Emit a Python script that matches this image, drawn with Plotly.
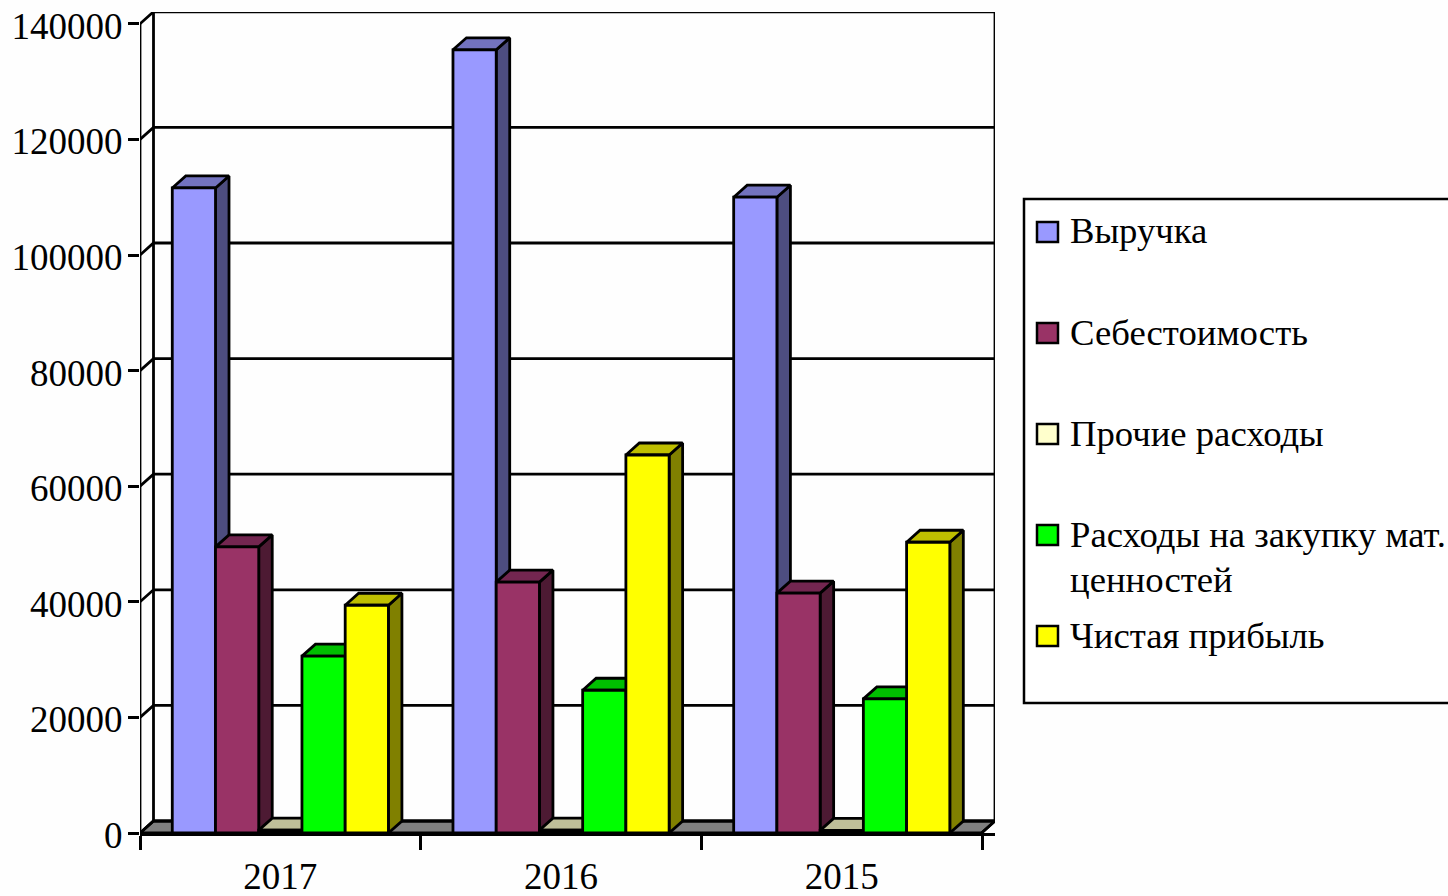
import plotly.graph_objects as go

# ---- data ----
years = ["2017", "2016", "2015"]
series_names = ["Выручка", "Себестоимость", "Прочие расходы", "Расходы на закупку мат. ценностей", "Чистая прибыль"]
revenue = [111600, 135500, 110000]
cost = [49500, 43400, 41500]
other = [500, 500, 450]
materials = [30600, 24700, 23200]
profit = [39400, 65400, 50300]
y_ticks = [0, 20000, 40000, 60000, 80000, 100000, 120000, 140000]

values = [revenue, cost, other, materials, profit]
front = ["#9999FF", "#993366", "#FFFFCC", "#00FF00", "#FFFF00"]
side = ["#4D4D80", "#4D1A33", "#808066", "#008000", "#808000"]
top = ["#7373BF", "#732650", "#BFBF99", "#00BF00", "#BFBF00"]

# ---- geometry of the pseudo-3D frame ----
W, H = 1448, 896
L, R, T, B = 140, 995, 12, 833
PX_X = 280.7            # px per category
PX_Y = 115.6 / 20000    # px per value
X0, X1 = -0.5, -0.5 + (R - L) / PX_X
Y1 = (B - T) / PX_Y
DX, DY = 13.5 / PX_X, 12 / PX_Y
GAP = 0.23
BW = (1 - GAP) / len(values)
LW = 2.8
INK = "#000000"
FONT = "Liberation Serif"
FS = 37

fig = go.Figure()


def poly(xs, ys, fill):
    fig.add_trace(go.Scatter(x=xs, y=ys, mode="lines", fill="toself", fillcolor=fill,
                             line=dict(color=INK, width=LW), hoverinfo="skip", showlegend=False,
                             xaxis="x", yaxis="y"))


# floor
poly([X0, X0 + DX, X1, X1 - DX, X0], [0, DY, DY, 0, 0], "#808080")

# back wall and left wall lines, gridlines
gx, gy = [], []
for t in y_ticks:
    gx += [X0, X0 + DX, X1, None]
    gy += [t, t + DY, t + DY, None]
gx += [X0 + DX, X0 + DX, None, X1, X1, None, X1, X1 - DX, None, X0, X0]
gy += [DY, y_ticks[-1] + DY, None, DY, y_ticks[-1] + DY, None, DY, 0, None, 0, y_ticks[-1]]
fig.add_trace(go.Scatter(x=gx, y=gy, mode="lines", line=dict(color=INK, width=LW),
                         hoverinfo="skip", showlegend=False, xaxis="x", yaxis="y", cliponaxis=False))

# depth faces of every bar, computed from the values
for s, vals in enumerate(values):
    sx, sy, tx, ty = [], [], [], []
    for c, v in enumerate(vals):
        x_l = c - (1 - GAP) / 2 + s * BW
        x_r = x_l + BW
        sx += [x_r, x_r + DX, x_r + DX, x_r, x_r, None]
        sy += [0, DY, v + DY, v, 0, None]
        tx += [x_l, x_l + DX, x_r + DX, x_r, x_l, None]
        ty += [v, v + DY, v + DY, v, v, None]
    poly(sx, sy, side[s])
    poly(tx, ty, top[s])

# front faces: real bars on an overlaid category axis
for s, vals in enumerate(values):
    fig.add_trace(go.Bar(x=years, y=vals, name=series_names[s], xaxis="x2", yaxis="y",
                         marker=dict(color=front[s], line=dict(color=INK, width=LW)),
                         showlegend=False))


# ---- legend drawn in page pixels ----
def px(x):
    return (x - L) / (R - L)


def py(y):
    return (B - y) / (B - T)


shapes = [dict(type="rect", xref="paper", yref="paper", x0=px(1024), x1=px(1470), y0=py(199), y1=py(703),
               line=dict(color=INK, width=2.5), fillcolor="#FFFFFF", layer="below")]
legend_y = [232, 333, 434, 535, 636]
legend_text = ["Выручка", "Себестоимость", "Прочие расходы", "Расходы на закупку мат.", "Чистая прибыль"]
legend_fs = 36.7
annotations = []
for s, ly in enumerate(legend_y):
    shapes.append(dict(type="rect", xref="paper", yref="paper", x0=px(1037), x1=px(1058),
                       y0=py(ly - 10), y1=py(ly + 10), line=dict(color=INK, width=2.5), fillcolor=front[s]))
    annotations.append(dict(xref="paper", yref="paper", x=px(1069), y=py(ly - 1), text=legend_text[s],
                            showarrow=False, xanchor="left", yanchor="middle", align="left",
                            font=dict(family=FONT, size=legend_fs, color=INK), borderpad=0))
annotations.append(dict(xref="paper", yref="paper", x=px(1069), y=py(579), text="ценностей",
                        showarrow=False, xanchor="left", yanchor="middle", align="left",
                        font=dict(family=FONT, size=legend_fs, color=INK), borderpad=0))

axis_font = dict(family=FONT, size=FS, color=INK)
fig.update_layout(
    width=W, height=H, margin=dict(l=L, r=W - R, t=T, b=H - B, pad=0, autoexpand=False),
    paper_bgcolor="#FEFEFE", plot_bgcolor="#FEFEFE", showlegend=False,
    barmode="group", bargap=GAP, bargroupgap=0,
    shapes=shapes, annotations=annotations,
    xaxis=dict(range=[X0, X1], visible=False, fixedrange=True, automargin=False),
    xaxis2=dict(type="category", overlaying="x", anchor="y", side="bottom", range=[X0, X1],
                categoryorder="array", categoryarray=years, automargin=False,
                tickson="boundaries", ticks="outside", ticklen=14, tickwidth=LW, tickcolor=INK,
                showgrid=False, zeroline=False, showline=True, linewidth=LW, linecolor=INK,
                tickfont=axis_font, ticklabelstandoff=9, fixedrange=True),
    yaxis=dict(range=[0, Y1], tickvals=y_ticks, ticktext=[str(t) for t in y_ticks], automargin=False,
               ticks="outside", ticklen=11, tickwidth=LW, tickcolor=INK,
               showgrid=False, zeroline=False, showline=False,
               tickfont=axis_font, ticklabelstandoff=-2, ticklabelshift=2, fixedrange=True),
)

fig.write_html("out.html", config=dict(displayModeBar=False),
               post_script="document.body.style.margin='0';document.body.style.overflow='hidden';")
